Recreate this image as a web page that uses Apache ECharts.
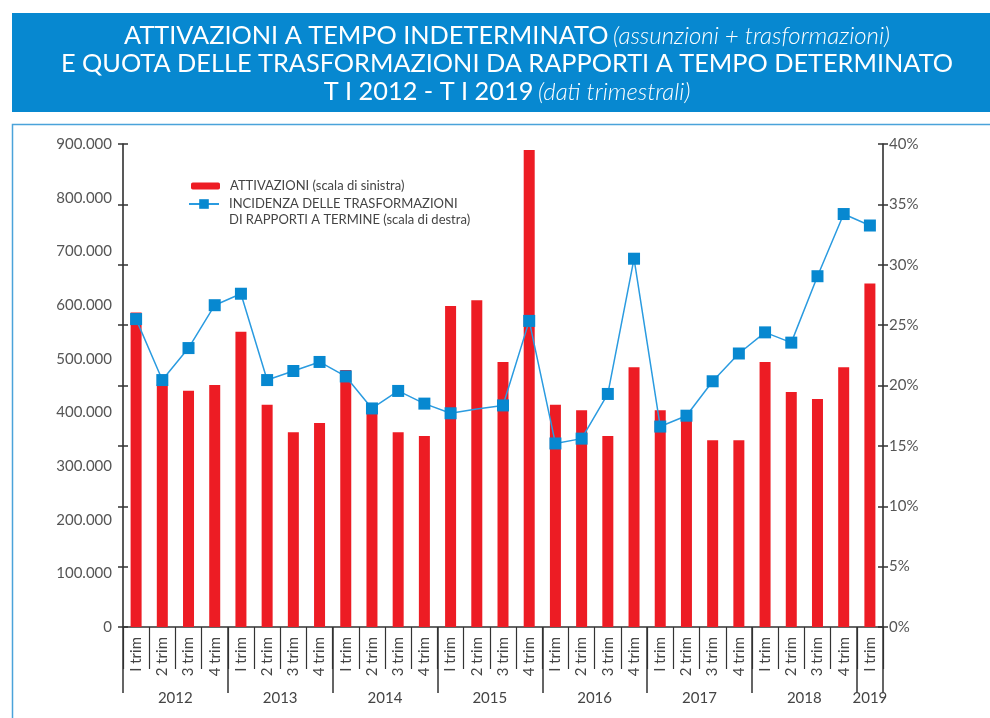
<!DOCTYPE html>
<html>
<head>
<meta charset="utf-8">
<script src="https://cdn.jsdelivr.net/npm/echarts@6/dist/echarts.min.js"></script>
<style>
  html, body { margin: 0; padding: 0; background: #fff; }
  #chart { width: 990px; height: 718px; }
</style>
</head>
<body>
<div id="chart"></div>
<script>
// trimestri e anni (una voce per trimestre)
var quarters = [
  'I trim', '2 trim', '3 trim', '4 trim',
  'I trim', '2 trim', '3 trim', '4 trim',
  'I trim', '2 trim', '3 trim', '4 trim',
  'I trim', '2 trim', '3 trim', '4 trim',
  'I trim', '2 trim', '3 trim', '4 trim',
  'I trim', '2 trim', '3 trim', '4 trim',
  'I trim', '2 trim', '3 trim', '4 trim',
  'I trim'
];
var years = [
  '2012', '2012', '2012', '2012',
  '2013', '2013', '2013', '2013',
  '2014', '2014', '2014', '2014',
  '2015', '2015', '2015', '2015',
  '2016', '2016', '2016', '2016',
  '2017', '2017', '2017', '2017',
  '2018', '2018', '2018', '2018',
  '2019'
];

// attivazioni (scala di sinistra)
var attivazioni = [
  586000, 452000, 440000, 451000,
  550000, 414000, 363000, 380000,
  479000, 403000, 363000, 356000,
  598000, 609000, 494000, 889000,
  414000, 404000, 356000, 484000,
  404000, 388000, 348000, 348000,
  494000, 438000, 425000, 484000,
  640000
];

// incidenza trasformazioni, % (scala di destra)
var incidenza = [
  25.5, 20.45, 23.1, 26.65,
  27.6, 20.45, 21.2, 21.95,
  20.75, 18.1, 19.55, 18.5,
  17.7, 18.05, 18.35, 25.35,
  15.2, 15.6, 19.3, 30.5,
  16.6, 17.5, 20.35, 22.65,
  24.4, 23.55, 29.05, 34.2,
  33.25
];
// nel grafico originale manca il marcatore del 2 trim 2015
var missingMarker = [13];

var FONT = 'Lato';
var nameBar = 'ATTIVAZIONI (scala di sinistra)';
var nameLine = 'INCIDENZA DELLE TRASFORMAZIONI\nDI RAPPORTI A TERMINE (scala di destra)';

var lineData = incidenza.map(function (v, i) {
  if (missingMarker.indexOf(i) >= 0) return { value: v, symbol: 'none' };
  return v;
});

// testo legenda con piccolo rientro (rich)
function legendText(name, blankFirst) {
  var parts = name.split('\n').map(function (s) { return '{t|' + s + '}'; });
  return (blankFirst ? ' \n' : '') + parts.join('\n');
}
var legendRich = { t: { fontFamily: FONT, fontSize: 13, color: '#444', lineHeight: 16, padding: [0, 0, 0, 5] } };

var chart = echarts.init(document.getElementById('chart'));

var option = {
  animation: false,
  textStyle: { fontFamily: FONT },
  graphic: [
    {
      type: 'rect', z: 0,
      shape: { x: 12, y: 13, width: 990, height: 99 },
      style: { fill: '#0788d0' }
    },
    {
      type: 'rect', z: 0,
      shape: { x: 12.5, y: 124.5, width: 1000, height: 700 },
      style: { fill: 'none', stroke: '#4aa3da', lineWidth: 1.5 }
    }
  ],
  title: {
    left: 502,
    textAlign: 'center',
    top: 17,
    z: 10,
    text: '{b|ATTIVAZIONI A TEMPO INDETERMINATO} {i|(assunzioni + trasformazioni)}\n' +
          '{b|E QUOTA DELLE TRASFORMAZIONI DA RAPPORTI A TEMPO DETERMINATO}\n' +
          '{b|T I 2012 - T I 2019} {i|(dati trimestrali)}',
    textStyle: {
      fontWeight: 'normal',
      rich: {
        b: { fontFamily: FONT, fontSize: 25.3, fontWeight: 'normal', color: '#fff', lineHeight: 28 },
        i: { fontFamily: FONT, fontSize: 24, color: '#fff', fontStyle: 'italic', fontWeight: 300, lineHeight: 28 }
      }
    }
  },
  legend: [
    {
      data: [nameBar],
      orient: 'vertical',
      left: 191, top: 178, padding: 0,
      itemWidth: 29, itemHeight: 7,
      itemStyle: { borderWidth: 0 },
      formatter: function (n) { return legendText(n, false); },
      textStyle: { fontFamily: FONT, fontSize: 13, color: '#444', lineHeight: 16, rich: legendRich },
      selectedMode: false
    },
    {
      data: [nameLine],
      orient: 'vertical',
      left: 188, top: 180, padding: 0,
      itemWidth: 30, itemHeight: 12,
      formatter: function (n) { return legendText(n, true); },
      textStyle: { fontFamily: FONT, fontSize: 13, color: '#444', lineHeight: 16, rich: legendRich },
      selectedMode: false
    }
  ],
  grid: {
    left: 123, right: 107, top: 144, bottom: 91,
    outerBoundsMode: 'none'
  },
  xAxis: [
    {
      type: 'category',
      data: quarters,
      position: 'bottom',
      axisLine: { show: true, lineStyle: { color: '#333', width: 1.5 } },
      axisTick: { show: true, interval: 0, length: 42, lineStyle: { color: '#333', width: 1.2 } },
      axisLabel: {
        interval: 0, rotate: 90, margin: 10,
        fontFamily: FONT, fontSize: 15, color: '#444'
      }
    },
    {
      type: 'category',
      data: years,
      position: 'bottom',
      axisLine: { show: false },
      axisTick: {
        show: true,
        length: 66,
        interval: function (i) { return i % 4 === 0 || i === years.length; },
        lineStyle: { color: '#333', width: 1.5 }
      },
      axisLabel: {
        margin: 64,
        interval: function (i) { return i % 4 === 1 || i === years.length - 1; },
        formatter: function (v, i) {
          return i === years.length - 1 ? v : '{s|' + v + '}';
        },
        fontFamily: FONT, fontSize: 15, color: '#444',
        rich: { s: { fontFamily: FONT, fontSize: 15, color: '#444', padding: [0, 0, 0, 26] } }
      }
    }
  ],
  yAxis: [
    {
      type: 'value',
      position: 'left',
      min: 0, max: 900000, interval: 100000,
      splitLine: { show: false },
      axisLine: { show: true, lineStyle: { color: '#222', width: 1.5 } },
      axisTick: { show: false },
      axisLabel: {
        margin: 11, fontFamily: FONT, fontSize: 15, color: '#555',
        formatter: function (v) { return v === 0 ? '0' : (v / 1000) + '.000'; }
      }
    },
    {
      type: 'value',
      position: 'right',
      min: 0, max: 40, interval: 5,
      splitLine: { show: false },
      axisLine: { show: true, lineStyle: { color: '#222', width: 1.5 } },
      axisTick: { show: true, length: 5, lineStyle: { color: '#333', width: 1.5 } },
      axisLabel: {
        margin: 6, fontFamily: FONT, fontSize: 15, color: '#555',
        formatter: '{value}%'
      }
    },
    // tacche dell'asse sinistro (nel grafico originale seguono la scala di destra)
    {
      type: 'value', position: 'left', min: 0, max: 40, interval: 5,
      splitLine: { show: false }, axisLine: { show: false }, axisLabel: { show: false },
      axisTick: { show: true, length: 5, lineStyle: { color: '#333', width: 1.5 } }
    },
    {
      type: 'value', position: 'left', min: 0, max: 40, interval: 5,
      splitLine: { show: false }, axisLine: { show: false }, axisLabel: { show: false },
      axisTick: { show: true, inside: true, length: 5, lineStyle: { color: '#333', width: 1.5 } }
    },
    {
      type: 'value', position: 'right', min: 0, max: 40, interval: 5,
      splitLine: { show: false }, axisLine: { show: false }, axisLabel: { show: false },
      axisTick: { show: true, inside: true, length: 5, lineStyle: { color: '#333', width: 1.5 } }
    }
  ],
  series: [
    {
      name: nameBar,
      type: 'bar',
      xAxisIndex: 0,
      yAxisIndex: 0,
      barWidth: 11,
      itemStyle: { color: '#ed1c24' },
      data: attivazioni
    },
    {
      name: nameLine,
      type: 'line',
      xAxisIndex: 0,
      yAxisIndex: 1,
      symbol: 'rect',
      symbolSize: 12,
      itemStyle: { color: '#0788d0' },
      lineStyle: { color: '#2a9be0', width: 1.5 },
      data: lineData
    }
  ]
};

chart.setOption(option);
</script>
</body>
</html>
